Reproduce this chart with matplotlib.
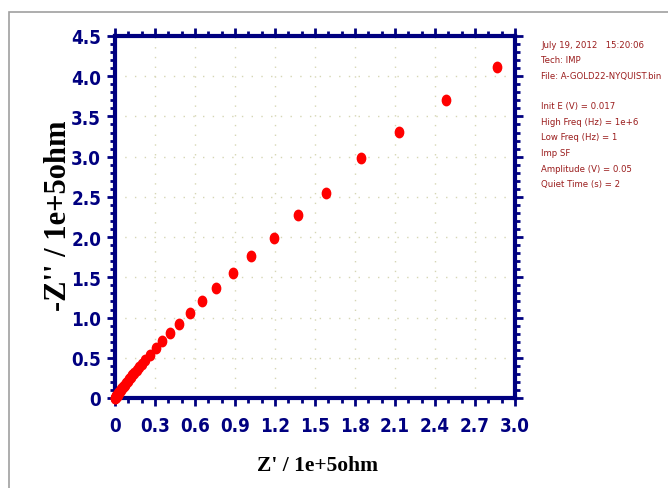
import numpy as np
import matplotlib
matplotlib.use("Agg")
import matplotlib.pyplot as plt
from matplotlib import font_manager
from matplotlib.font_manager import FontProperties
from matplotlib.path import Path
from matplotlib.patches import Rectangle
from matplotlib.transforms import Affine2D

# impedance data, Z' and -Z'' in units of 1e5 ohm
z_real = [2.865, 2.48, 2.13, 1.845, 1.58, 1.375, 1.19, 1.02, 0.883, 0.758,
          0.655, 0.5625, 0.48, 0.415, 0.355, 0.31, 0.265, 0.225,
          0.200, 0.180, 0.162, 0.146, 0.131, 0.118, 0.106, 0.095, 0.085,
          0.076, 0.068, 0.061, 0.054, 0.048, 0.043, 0.038, 0.033, 0.029,
          0.025, 0.022, 0.019, 0.016, 0.013, 0.011, 0.009, 0.007, 0.005,
          0.004, 0.003, 0.002]
z_imag = [4.12, 3.70, 3.31, 2.98, 2.55, 2.27, 1.99, 1.77, 1.55, 1.365,
          1.20, 1.06, 0.92, 0.81, 0.707, 0.617, 0.533, 0.47,
          0.425, 0.385, 0.348, 0.314, 0.284, 0.256, 0.230, 0.207, 0.186,
          0.167, 0.150, 0.134, 0.120, 0.107, 0.095, 0.084, 0.074, 0.065,
          0.057, 0.049, 0.042, 0.036, 0.030, 0.025, 0.020, 0.016, 0.012,
          0.009, 0.006, 0.004]

x_ticks = [0, 0.3, 0.6, 0.9, 1.2, 1.5, 1.8, 2.1, 2.4, 2.7, 3.0]
x_labels = ["0", "0.3", "0.6", "0.9", "1.2", "1.5", "1.8", "2.1", "2.4", "2.7", "3.0"]
y_ticks = [0, 0.5, 1.0, 1.5, 2.0, 2.5, 3.0, 3.5, 4.0, 4.5]
y_labels = ["0", "0.5", "1.0", "1.5", "2.0", "2.5", "3.0", "3.5", "4.0", "4.5"]

info_lines = ["July 19, 2012   15:20:06", "Tech: IMP", "File: A-GOLD22-NYQUIST.bin",
              "", "Init E (V) = 0.017", "High Freq (Hz) = 1e+6", "Low Freq (Hz) = 1",
              "Imp SF", "Amplitude (V) = 0.05", "Quiet Time (s) = 2"]

navy = "#000080"


def find_narrow(bold):
    """Look for a narrow/condensed sans face; None if there is none."""
    for f in font_manager.fontManager.ttflist:
        narrowish = ("Narrow" in f.name or "Condensed" in f.name
                     or f.stretch in ("condensed", "semi-condensed", "extra-condensed"))
        if not narrowish or "Serif" in f.name or "Mono" in f.name:
            continue
        w = f.weight if isinstance(f.weight, int) else (700 if "bold" in str(f.weight) else 400)
        if (w >= 600) == bold and f.style == "normal":
            return f.fname
    return None


bold_path = find_narrow(True)
reg_path = find_narrow(False)
if bold_path:
    tick_font = FontProperties(fname=bold_path, size=13.5)
else:
    tick_font = FontProperties(family="Liberation Sans", weight="bold", size=12.5)
if reg_path:
    info_font = FontProperties(fname=reg_path, size=6.8)
else:
    info_font = FontProperties(family="Liberation Sans", size=6.3)

fig = plt.figure(figsize=(6.68, 4.89), dpi=100)
fig.patches.append(Rectangle((9 / 668, -0.1), 1.2, 1 - 13 / 489 + 0.1,
                             transform=fig.transFigure, fill=False,
                             edgecolor="#a0a0a0", linewidth=1.2))
ax = fig.add_axes([115 / 668, 1 - 399 / 489, 400 / 668, 362 / 489])

# slightly tall ellipse marker like the original
ell = Path.unit_circle().transformed(Affine2D().scale(0.8, 1.0))
ax.plot(z_real, z_imag, linestyle="none", marker=ell, markersize=7.5,
        color="#ff0000", clip_on=False, zorder=5)

ax.set_xlim(0, 3.0)
ax.set_ylim(0, 4.5)
ax.set_xticks(x_ticks)
ax.set_xticklabels(x_labels)
ax.set_yticks(y_ticks)
ax.set_yticklabels(y_labels)
ax.set_xticks(np.arange(0, 3.01, 0.1), minor=True)
ax.set_yticks(np.arange(0, 4.51, 0.1), minor=True)

for sp in ax.spines.values():
    sp.set_color(navy)
    sp.set_linewidth(3)
ax.tick_params(which="both", direction="out", color=navy, top=True, right=True,
               width=2)
ax.tick_params(which="major", length=6, pad=4)
ax.tick_params(which="minor", length=3.5)
ax.tick_params(axis="x", which="major", pad=7)
for lab in ax.get_xticklabels() + ax.get_yticklabels():
    lab.set_fontproperties(tick_font)
    lab.set_color(navy)

ax.grid(True, which="major", color="#d6d6b4", linewidth=1.0, linestyle=(0, (1, 6)))

ax.set_xlabel("Z' / 1e+5ohm", family="Liberation Serif", fontweight="bold",
              fontsize=15.5)
ax.set_ylabel("-Z'' / 1e+5ohm", family="Liberation Serif", fontweight="bold",
              fontsize=22)
ax.xaxis.set_label_coords(0.507, -0.185)
ax.yaxis.set_label_coords(-0.14, 0.505)
ax.xaxis.label.set_va("center")
ax.yaxis.label.set_va("center")

for i, line in enumerate(info_lines):
    fig.text(541 / 668, 1 - (45 + i * 15.5) / 489, line, fontproperties=info_font,
             color="#9a1c1c", va="center")

fig.savefig("out.png", dpi=100)
